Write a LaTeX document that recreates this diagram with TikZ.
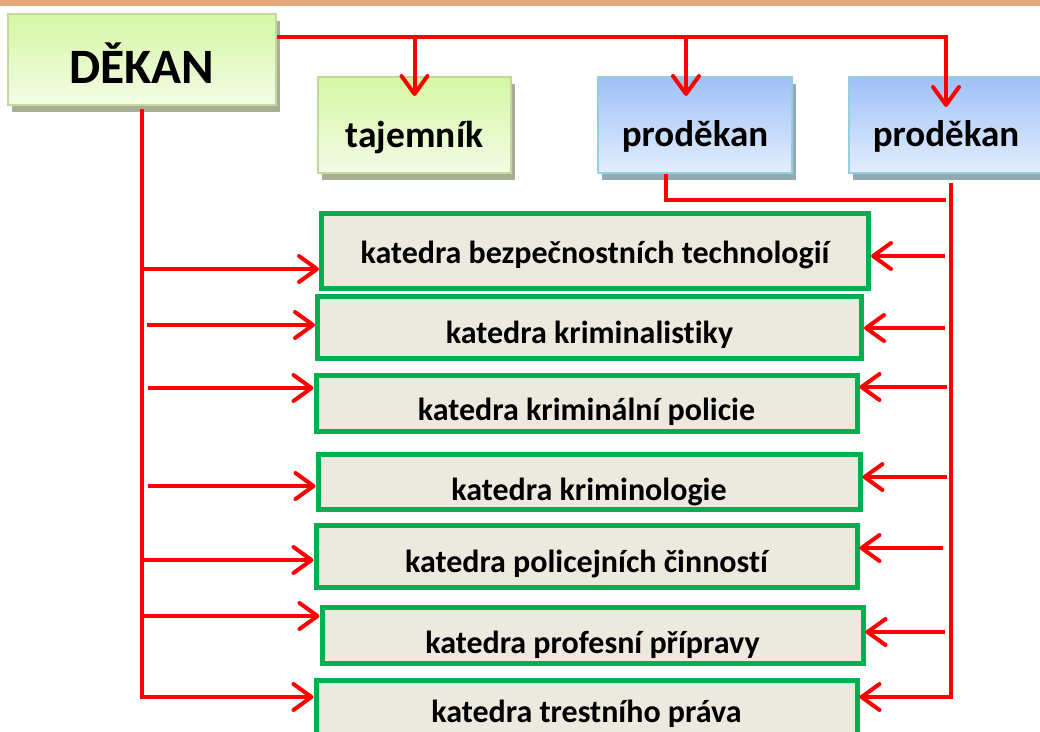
\documentclass[tikz,border=0pt]{standalone}
\usepackage{fontspec}
\setmainfont{Carlito}[Ligatures=NoCommon]
\usepackage{tikz}
\usetikzlibrary{arrows.meta,shadows}

\definecolor{topband}{HTML}{E6A77F}
\definecolor{greentop}{HTML}{D5F7A4}
\definecolor{greenbot}{HTML}{F3FCE6}
\definecolor{greenedge}{HTML}{C3D79E}
\definecolor{greenshadow}{HTML}{A7AF95}
\definecolor{bluetop}{HTML}{9EC1F8}
\definecolor{bluebot}{HTML}{E4EEFD}
\definecolor{blueedge}{HTML}{94CEDF}
\definecolor{blueshadow}{HTML}{93AAB3}
\definecolor{deptedge}{HTML}{00B050}
\definecolor{deptfill}{HTML}{ECEADF}
\definecolor{wirered}{HTML}{FF0000}

\begin{document}
\begin{tikzpicture}[
    x=1pt, y=-1pt,
    greenbox/.style={draw=greenedge, line width=2pt, top color=greentop, bottom color=greenbot,
        drop shadow={shadow xshift=4pt, shadow yshift=-7pt, fill=greenshadow, opacity=1},
        font=\bfseries\fontsize{37.5}{44}\selectfont, text depth=0pt},
    bluebox/.style={draw=blueedge, line width=2pt, top color=bluetop, bottom color=bluebot,
        drop shadow={shadow xshift=4pt, shadow yshift=-7pt, fill=blueshadow, opacity=1},
        font=\bfseries\fontsize{37}{44}\selectfont, text depth=0pt,
        minimum width=194, minimum height=96},
    dept/.style={draw=deptedge, line width=5pt, fill=deptfill, minimum width=541,
        font=\bfseries\fontsize{32}{38}\selectfont, text depth=0pt},
    wire/.style={draw=wirered, line width=4pt},
    arr/.style={wire, -{Straight Barb[length=18pt,width=26pt,round]}}
]
\useasboundingbox (0,0) rectangle (1040,731);
\fill[topband] (0,0) rectangle (1040,6);

% Nodes
\node[greenbox, minimum width=268, minimum height=91, text height=47pt,
    font=\bfseries\fontsize{49.5}{58}\selectfont] (dekan) at (142,59.5) {DĚKAN};
\node[greenbox, minimum width=193, minimum height=96, text height=44pt] (tajemnik) at (414.5,125) {tajemník};
\node[bluebox, text height=42pt] (prodekanA) at (695,125) {proděkan};
\node[bluebox, text height=42pt] (prodekanB) at (946,125) {proděkan};

\node[dept, minimum width=544, minimum height=62, text height=32pt] (k2) at (589.5,327) {katedra kriminalistiky};
\node[dept, minimum width=547, minimum height=75, text height=25pt] (k1) at (595,250.5) {katedra bezpečnostních technologií};
\node[dept, minimum height=56, text height=34pt] (k3) at (586.5,403) {katedra kriminální policie};
\node[dept, minimum width=542, minimum height=55, text height=37pt] (k4) at (589,481.5) {katedra kriminologie};
\node[dept, minimum height=62, text height=32pt] (k5) at (586.5,556) {katedra policejních činností};
\node[dept, minimum height=56, text height=36pt] (k6) at (592.5,635) {katedra profesní přípravy};
\node[dept, minimum height=75, text height=8pt] (k7) at (586.5,718) {katedra trestního práva};

\coordinate (topbus) at (946,37);
\coordinate (leftbus) at (143,697);
\coordinate (rightbus) at (951,697);
\coordinate (gapend) at (946,200);

% Arrows from the dean
\draw[arr] (dekan.east |- topbus) -| ([yshift=-31pt]prodekanB.north);
\draw[arr] (tajemnik.north |- topbus) -- ([yshift=-20pt]tajemnik.north);
\draw[arr] ([xshift=-9pt]prodekanA.north |- topbus) -- ([xshift=-9pt,yshift=-20pt]prodekanA.north);

\draw[arr] ([yshift=-3pt]dekan.south) |- (k7.west |- leftbus);
\draw[arr] (dekan.south |- 0,269) -- (k1.west |- 0,269);
\draw[arr] ([xshift=5pt]dekan.south |- 0,325) -- (k2.west |- 0,325);
\draw[arr] ([xshift=6pt]dekan.south |- 0,388) -- (k3.west |- 0,388);
\draw[arr] ([xshift=6pt]dekan.south |- 0,486) -- (k4.west |- 0,486);
\draw[arr] (dekan.south |- 0,560) -- (k5.west |- 0,560);
\draw[arr] (dekan.south |- 0,616) -- (k6.west |- 0,616);

% Arrows from the vice-deans
\draw[wire] ([xshift=-29pt]prodekanA.south) |- (gapend);
\draw[arr] ([xshift=5pt,yshift=-9pt]prodekanB.south) |- (k7.east |- rightbus);
\draw[arr] ([xshift=-6pt]rightbus |- 0,256) -- (k1.east |- 0,256);
\draw[arr] ([xshift=-6pt]rightbus |- 0,328) -- (k2.east |- 0,328);
\draw[arr] ([xshift=-4pt]rightbus |- 0,387) -- (k3.east |- 0,387);
\draw[arr] ([xshift=-4pt]rightbus |- 0,477) -- (k4.east |- 0,477);
\draw[arr] ([xshift=-8pt]rightbus |- 0,548) -- (k5.east |- 0,548);
\draw[arr] ([xshift=-6pt]rightbus |- 0,632) -- (k6.east |- 0,632);

\end{tikzpicture}
\end{document}
